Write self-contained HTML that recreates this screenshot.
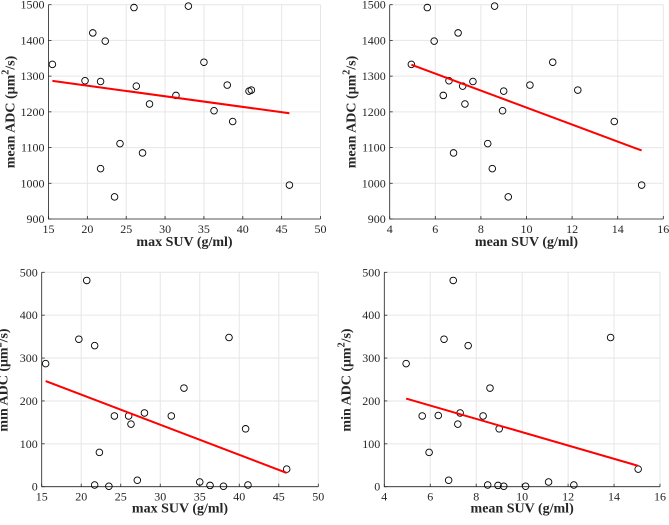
<!DOCTYPE html>
<html><head><meta charset="utf-8">
<style>
html,body{margin:0;padding:0;background:#fff;}
svg, svg text{font-family:"Liberation Serif","Times New Roman",serif;}
</style></head>
<body>
<svg id="fig" width="669" height="520" viewBox="0 0 669 520"></svg>
<script>
const maxSUV = [15.5,19.7,20.7,21.7,22.3,26.0,33.0,35.0,26.3,31.4,28.0,36.3,38.0,40.8,41.1,38.7,24.2,27.1,21.7,23.5,46.0];
const meanADC1 = [1333,1287,1421,1285,1398,1492,1496,1339,1272,1246,1222,1203,1275,1258,1261,1173,1111,1085,1041,962,995];
const meanSUV = [4.95,5.65,5.95,7.0,8.6,6.6,7.65,7.2,6.35,7.3,9.0,8.95,10.15,11.15,12.25,13.85,8.3,6.8,8.5,9.2,15.05];
const meanADC2 = [1333,1492,1398,1421,1496,1287,1285,1272,1246,1222,1258,1203,1275,1339,1261,1173,1111,1085,1041,962,995];
const maxSUV3 = [15.5,19.7,20.7,21.7,22.3,21.7,23.5,24.2,26.0,26.3,27.1,28.0,31.4,33.0,35.0,36.3,38.0,38.7,40.8,41.1,46.0];
const minADC3 = [287,344,481,329,80,4,1,165,165,146,15,172,165,230,11,3,1,348,135,4,41];
const meanSUV4 = [4.95,5.65,5.95,6.35,6.6,6.8,7.0,7.2,7.3,7.65,8.3,8.5,8.6,8.95,9.0,9.2,10.15,11.15,12.25,13.85,15.05];
const minADC4 = [287,165,80,166,344,15,481,146,172,329,165,4,230,3,135,1,1,11,4,348,41];
const xTicksMax = [15,20,25,30,35,40,45,50];
const xTicksMean = [4,6,8,10,12,14,16];
const yTicksMean = [900,1000,1100,1200,1300,1400,1500];
const yTicksMin = [0,100,200,300,400,500];

const NS="http://www.w3.org/2000/svg";
const FF='Liberation Serif, Times New Roman, serif';
const svg=document.getElementById('fig');
function mk(tag,attrs,parent){const e=document.createElementNS(NS,tag);for(const k in attrs)e.setAttribute(k,attrs[k]);if(tag==='text')e.setAttribute('font-family',FF);(parent||svg).appendChild(e);return e;}

function panel(id,box,xs,ys,xt,yt,xlabel,ylabelPre,cy,xtOff){
  const g=mk('g',{});
  
  
  const [L,R,T,B]=box;
  const x0=xt[0],x1=xt[xt.length-1],y0=yt[0],y1=yt[yt.length-1];
  const sx=v=>L+(v-x0)/(x1-x0)*(R-L);
  const sy=v=>B-(v-y0)/(y1-y0)*(B-T);
  xt.forEach(t=>{
    const l=mk('line',{x1:sx(t),x2:sx(t),y1:T,y2:B,stroke:'#e6e6e6','stroke-width':1},g);
    
    
    const tx=mk('text',{x:sx(t),y:B+14,'text-anchor':'middle','font-size':12,fill:'#262626'},g);
    tx.textContent=t;
    
    
  });
  yt.forEach(t=>{
    const l=mk('line',{x1:L,x2:R,y1:sy(t),y2:sy(t),stroke:'#e6e6e6','stroke-width':1},g);
    
    
    const tx=mk('text',{x:L-4,y:sy(t)+4,'text-anchor':'end','font-size':12,fill:'#262626'},g);
    tx.textContent=t;
    
    
  });
  const ax=mk('path',{d:`M${L},${T}V${B}H${R}`,stroke:'#262626','stroke-width':0.8,fill:'none'},g);
  
  
  xt.forEach(t=>mk('line',{x1:sx(t),x2:sx(t),y1:B,y2:B-3,stroke:'#262626','stroke-width':0.8},g));
  yt.forEach(t=>mk('line',{x1:L,x2:L+3,y1:sy(t),y2:sy(t),stroke:'#262626','stroke-width':0.8},g));
  const n=xs.length;let mx=0,my=0;for(let i=0;i<n;i++){mx+=xs[i];my+=ys[i];}mx/=n;my/=n;
  let sxy=0,sxx=0;for(let i=0;i<n;i++){sxy+=(xs[i]-mx)*(ys[i]-my);sxx+=(xs[i]-mx)**2;}
  const b=sxy/sxx,a=my-b*mx;const xa=Math.min(...xs),xb=Math.max(...xs);
  xs.forEach((v,i)=>{
    const c=mk('circle',{cx:sx(v),cy:sy(ys[i]),r:3.3,fill:'none',stroke:'#000','stroke-width':0.9},g);
    
    
  });
  const fl=mk('line',{x1:sx(xa),y1:sy(a+b*xa),x2:sx(xb),y2:sy(a+b*xb),stroke:'#ff0000','stroke-width':2},g);
  
  
  const xl=mk('text',{x:(L+R)/2,y:B+xtOff,'text-anchor':'middle','font-size':14,'font-weight':'bold',fill:'#262626'},g);
  xl.textContent=xlabel;
  
  
  const yl=mk('text',{transform:`translate(${L-34},${cy}) rotate(-90)`,'text-anchor':'middle','font-size':14,'font-weight':'bold',fill:'#262626'},g);
  yl.innerHTML='<tspan>'+ylabelPre+' ADC (μm</tspan><tspan dy="-6" font-size="10">2</tspan><tspan dy="6">/s)</tspan>';
  
  
}
panel('panel-maxsuv-meanadc',[48.5,320.5,4.7,219],maxSUV,meanADC1,xTicksMax,yTicksMean,'max SUV (g/ml)','mean',112,27);
panel('panel-meansuv-meanadc',[389.7,663.3,4.7,219],meanSUV,meanADC2,xTicksMean,yTicksMean,'mean SUV (g/ml)','mean',112,27);
panel('panel-maxsuv-minadc',[41.7,318.3,272.3,486.7],maxSUV3,minADC3,xTicksMax,yTicksMin,'max SUV (g/ml)','min',380,26);
panel('panel-meansuv-minadc',[384.3,660,272.3,486.7],meanSUV4,minADC4,xTicksMean,yTicksMin,'mean SUV (g/ml)','min',380,26);
</script>
</body></html>
